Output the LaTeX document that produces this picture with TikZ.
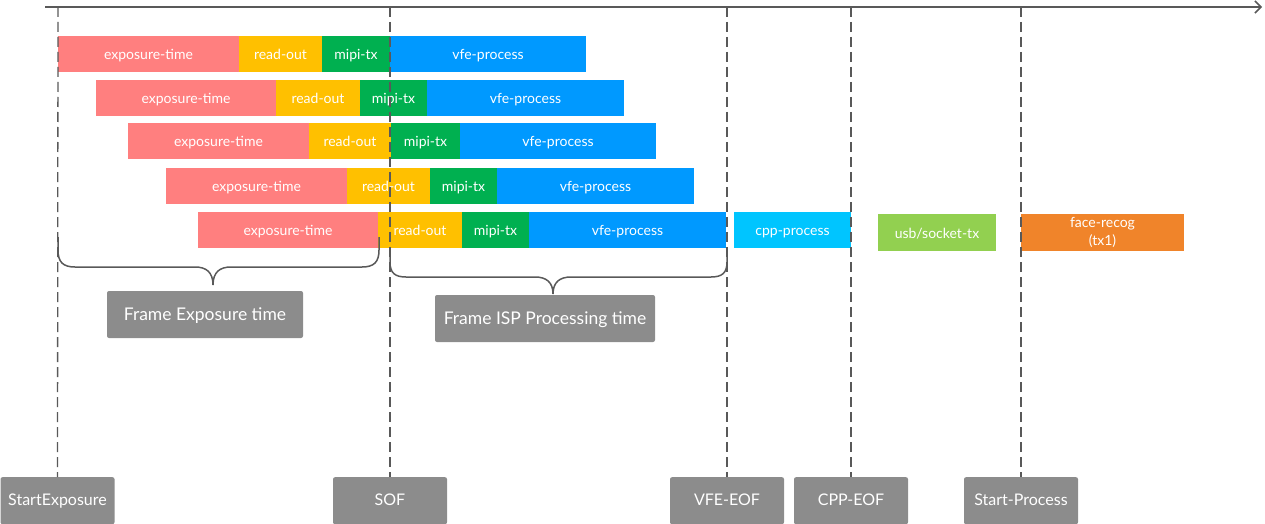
\documentclass[tikz,border=0pt]{standalone}
\usepackage{fontspec}
\setmainfont{Lato}
\usetikzlibrary{arrows.meta}
\definecolor{cexp}{HTML}{FF7F7F}
\definecolor{cread}{HTML}{FFC000}
\definecolor{cmipi}{HTML}{00B050}
\definecolor{cvfe}{HTML}{0099FF}
\definecolor{ccpp}{HTML}{00C5FF}
\definecolor{cusb}{HTML}{92D050}
\definecolor{cface}{HTML}{F0842A}
\definecolor{cbox}{HTML}{8C8C8C}
\definecolor{cline}{HTML}{595959}
\tikzset{
  bar/.style={inner sep=0pt, outer sep=0pt, text=white, font=\fontsize{14}{18}\selectfont, align=center},
  onel/.style={text height=11pt, text depth=0pt},
  evbox/.style={fill=cbox, text=white, rounded corners=2pt, inner sep=0pt, minimum width=114pt, minimum height=47pt, anchor=north, font=\fontsize{16}{18}\selectfont, text height=12pt, text depth=2pt},
  lblbox/.style={fill=cbox, text=white, rounded corners=2pt, inner sep=0pt, font=\fontsize{17.5}{19}\selectfont, text height=13pt, text depth=1.5pt},
  vdash/.style={draw=cline, line width=1.3pt, dash pattern=on 10pt off 5pt},
  brc/.style={draw=cline, line width=1.5pt},
}
\newcommand{\barnode}[8]{% name, color, x0, y0, x1, y1, extra style, text
  \pgfmathsetmacro\bw{#5-#3}\pgfmathsetmacro\bh{#6-#4}%
  \pgfmathsetmacro\bx{(#3+#5)/2}\pgfmathsetmacro\by{(#4+#6)/2}%
  \node[bar, fill=#2, minimum width=\bw pt, minimum height=\bh pt, #7] (#1) at (\bx,\by) {#8};}
\begin{document}
\begin{tikzpicture}[x=1pt,y=-1pt]
\useasboundingbox (0,0) rectangle (1265,524);
% axis
\coordinate (ax0) at (45,7);
\coordinate (ax1) at (1262,7);
\draw[cline, line width=1.5pt, -{Straight Barb[length=6pt,width=12pt]}] (ax0) -- (ax1);
% bars
\foreach \i/\y/\a/\b/\c/\d/\e in {1/36/58/239/322/390/586, 2/80/96/276/360/427/624, 3/123/128/309/391/460/656, 4/168/166/347/430/497/694, 5/212/198/378/462/529/726} {
  \pgfmathsetmacro\yy{\y+36}
  \barnode{e\i}{cexp}{\a}{\y}{\b}{\yy}{onel}{exposure-time}
  \barnode{r\i}{cread}{\b}{\y}{\c}{\yy}{onel}{read-out}
  \barnode{m\i}{cmipi}{\c}{\y}{\d}{\yy}{onel}{mipi-tx}
  \barnode{v\i}{cvfe}{\d}{\y}{\e}{\yy}{onel}{vfe-process}
}
\barnode{cpp}{ccpp}{734}{212}{851}{248}{onel}{cpp-process}
\barnode{usb}{cusb}{878}{214}{996}{251}{onel}{usb/socket-tx}
\barnode{face}{cface}{1021}{214}{1184}{251}{}{face-recog\\(tx1)}
% bottom event boxes
\node[evbox] (se) at (57.5,477) {StartExposure};
\node[evbox] (sof) at (390,477) {SOF};
\node[evbox] (vfe) at (727,477) {VFE-EOF};
\node[evbox] (cppeof) at (851,477) {CPP-EOF};
\node[evbox] (sp) at (1021,477) {Start-Process};
% dashed lines
\coordinate (t1) at (58,7);
\coordinate (t2) at (390,7);
\coordinate (t3) at (727,7);
\coordinate (t4) at (851,7);
\coordinate (t5) at (1021,7);
\draw[vdash] (t1) -- (se.north);
\draw[vdash] (t2) -- (sof.north);
\draw[vdash] (t3) -- (vfe.north);
\draw[vdash] (t4) -- (cppeof.north);
\draw[vdash] (t5) -- (sp.north);
% braces
\draw[brc] (58,237) -- (58,250) .. controls (58,262) and (63,267) .. (75,267) -- (195,267)
  .. controls (206,267) and (213,272) .. (213,285)
  .. controls (213,272) and (220,267) .. (231,267) -- (362,267)
  .. controls (374,267) and (379,262) .. (379,250) -- (379,237);
\draw[brc] (390,255) -- (390,262) .. controls (390,273) and (395,277) .. (406,277) -- (535,277)
  .. controls (546,277) and (553,282) .. (553,294)
  .. controls (553,282) and (560,277) .. (571,277) -- (711,277)
  .. controls (722,277) and (727,273) .. (727,262) -- (727,255);
% labels
\node[lblbox, minimum width=196pt, minimum height=47pt] (fet) at (205,314.5) {Frame Exposure time};
\node[lblbox, minimum width=220pt, minimum height=47pt] (fisp) at (545,318.5) {Frame ISP Processing time};
\end{tikzpicture}
\end{document}
